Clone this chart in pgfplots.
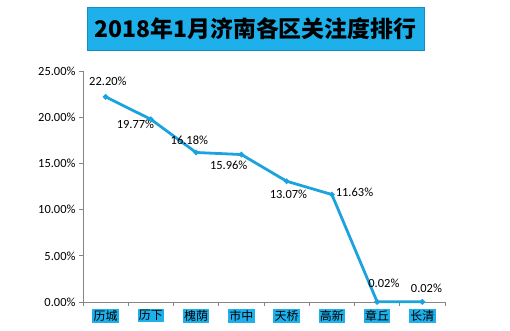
\documentclass[border=0pt]{standalone}
\usepackage{fontspec}
\setmainfont{Carlito}
\newfontfamily\cjk{Noto Sans CJK SC}
\usepackage{pgfplots}
\pgfplotsset{compat=1.18}
\definecolor{lineblue}{HTML}{1CA3DE}
\definecolor{titleblue}{HTML}{1EB0EA}
\definecolor{axgrey}{HTML}{868686}
\begin{document}
\begin{tikzpicture}[x=1bp,y=1bp]
\path[use as bounding box] (0,0) rectangle (510,330);
\node[fill=titleblue, draw=titleblue!80!black, line width=0.6bp, minimum width=337bp, minimum height=43bp, inner sep=0pt, font=\cjk\bfseries\fontsize{23}{26}\selectfont] at (255.5,301.5) {2018年1月济南各区关注度排行};
\begin{axis}[
  at={(83bp,28bp)}, anchor=south west,
  scale only axis, width=362bp, height=231bp,
  xmin=-0.5, xmax=7.5, ymin=0, ymax=25,
  axis x line*=bottom, axis y line*=left,
  axis line style={axgrey, line width=0.8bp},
  xtick={0,...,7},
  xticklabels={历城,历下,槐荫,市中,天桥,高新,章丘,长清},
  x tick label style={font=\cjk\fontsize{12}{13}\selectfont, fill=titleblue, inner sep=1.2pt, yshift=-3bp},
  major x tick style={draw=none},
  minor xtick={-0.5,0.5,...,7.5},
  minor tick length=4bp,
  minor x tick style={axgrey, line width=0.8bp},
  ytick={0,5,...,25},
  yticklabels={0.00\%,5.00\%,10.00\%,15.00\%,20.00\%,25.00\%},
  y tick label style={font=\fontsize{12.5}{14}\selectfont},
  y tick style={axgrey, line width=0.8bp},
  major tick length=4bp,
  tick align=outside,
  clip=false,
]
\addplot[lineblue, line width=2.8bp, mark=*, mark size=1.1bp, mark options={fill=lineblue!70!black, draw=none}] coordinates {
 (0,22.20) (1,19.77) (2,16.18) (3,15.96) (4,13.07) (5,11.63) (6,0.02) (7,0.02)};
\begin{scope}[font=\fontsize{12.5}{14}\selectfont]
\node at (axis cs:0.05,23.85) {22.20\%};
\node at (axis cs:0.66,19.2) {19.77\%};
\node at (axis cs:1.85,17.45) {16.18\%};
\node at (axis cs:2.72,14.8) {15.96\%};
\node at (axis cs:4.04,11.7) {13.07\%};
\node at (axis cs:5.5,11.9) {11.63\%};
\node at (axis cs:6.15,2.05) {0.02\%};
\node at (axis cs:7.09,1.5) {0.02\%};
\end{scope}
\end{axis}
\end{tikzpicture}
\end{document}
